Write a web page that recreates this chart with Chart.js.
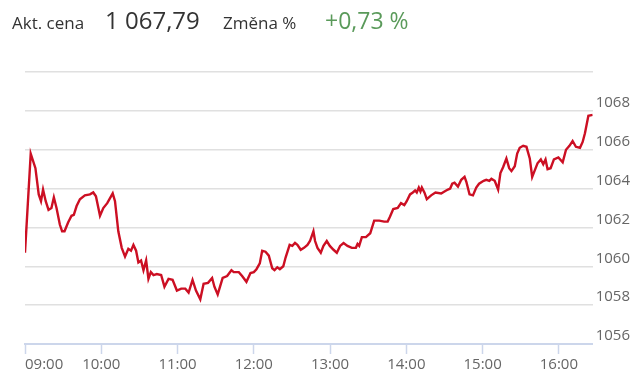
<!DOCTYPE html>
<html>
<head>
<meta charset="utf-8">
<script src="https://cdn.jsdelivr.net/npm/chart.js@4/dist/chart.umd.min.js"></script>
<style>
  html, body { margin: 0; padding: 0; background: #fff; }
  #wrap { position: relative; width: 640px; height: 383px; overflow: hidden; font-family: 'Open Sans', sans-serif; }
  #wrap canvas { position: absolute; left: 0; top: 0; }
  .h { position: absolute; white-space: nowrap; line-height: normal; }
  .lbl { font-size: 17px; color: #333; top: 10.8px; }
  .big { font-size: 24px; color: #333; top: 3.3px; }
  .chg { font-size: 23px; color: #5a9a5a; top: 4.4px; }
</style>
</head>
<body>
<div id="wrap">
  <canvas id="c" width="640" height="383"></canvas>
  <span class="h lbl" style="left:12px">Akt. cena</span>
  <span class="h big" style="left:105px">1 067,79</span>
  <span class="h lbl" style="left:223px">Změna %</span>
  <span class="h chg" style="left:325px">+0,73 %</span>
</div>
<script>
// minutes after 09:00
const minutes = [0,4.5,8.2,10.8,12.6,14.2,16.3,18.5,20.8,22.7,24.8,27.4,29.2,31.1,33.9,36.6,38.4,40.6,43.2,47.1,51.1,53.7,55.8,59.0,61.6,64.7,69.0,70.8,73.4,76.1,78.7,81.3,83.4,85.3,87.4,89.2,91.3,93.2,95.3,97.1,99.0,101.1,103.7,107.1,109.7,112.9,116.1,119.5,122.9,126.1,128.7,131.8,134.5,137.9,140.5,144.0,147.2,149.0,151.6,155.5,159.0,162.4,164.2,168.2,170.8,174.2,177.4,180.0,182.1,184.7,186.6,189.2,191.8,194.5,196.3,198.5,200.5,203.2,205.0,208.2,210.3,212.4,214.3,216.9,219.5,222.2,224.2,226.9,228.2,230.1,232.7,234.8,237.4,239.8,242.7,245.3,247.9,250.6,253.7,257.1,260.3,261.6,262.9,265.0,268.2,271.6,274.7,278.7,282.6,285.3,287.1,289.7,293.2,295.8,298.4,300.3,302.9,305.1,306.9,308.2,309.8,311.1,312.2,314.2,316.1,319.5,322.9,327.4,330.0,332.7,334.5,336.1,337.9,340.6,343.2,345.8,347.2,349.7,352.4,355.0,357.2,360.8,362.9,365.3,366.9,369.5,372.2,374.0,376.1,378.7,380.9,382.7,385.3,387.2,389.2,391.9,394.5,397.1,399.0,401.1,403.2,405.8,407.7,409.5,411.1,413.5,416.1,419.6,423.0,425.6,428.3,430.8,433.4,436.6,438.7,440.5,443.2,446.6];
const prices = [1060.7,1065.8,1065.05,1063.7,1063.35,1063.95,1063.35,1062.9,1063.0,1063.55,1063.0,1062.15,1061.8,1061.8,1062.25,1062.6,1062.65,1063.1,1063.45,1063.65,1063.7,1063.8,1063.6,1062.6,1063.0,1063.25,1063.75,1063.35,1061.8,1060.95,1060.5,1060.9,1060.8,1061.1,1060.8,1060.2,1060.3,1059.8,1060.3,1059.35,1059.7,1059.55,1059.6,1059.55,1058.95,1059.35,1059.3,1058.75,1058.85,1058.85,1058.65,1059.3,1058.75,1058.3,1059.1,1059.15,1059.4,1058.95,1058.55,1059.4,1059.5,1059.8,1059.7,1059.7,1059.5,1059.2,1059.65,1059.7,1059.85,1060.15,1060.8,1060.75,1060.55,1059.9,1059.8,1059.95,1059.85,1060.0,1060.45,1061.1,1061.05,1061.2,1061.1,1060.85,1060.95,1061.1,1061.3,1061.8,1061.3,1060.95,1060.7,1061.05,1061.3,1061.05,1060.85,1060.7,1061.05,1061.2,1061.05,1060.95,1060.95,1061.15,1061.05,1061.5,1061.5,1061.7,1062.35,1062.35,1062.3,1062.3,1062.55,1062.95,1063.0,1063.25,1063.15,1063.35,1063.7,1063.8,1063.9,1063.8,1064.05,1063.85,1064.05,1063.8,1063.45,1063.65,1063.8,1063.75,1063.85,1063.95,1064.0,1064.25,1064.3,1064.1,1064.45,1064.6,1064.35,1063.7,1063.65,1064.05,1064.25,1064.4,1064.45,1064.4,1064.5,1064.4,1063.95,1064.8,1065.1,1065.55,1065.05,1064.9,1065.15,1065.8,1066.1,1066.2,1066.15,1065.55,1064.6,1064.95,1065.3,1065.5,1065.25,1065.5,1065.0,1065.05,1065.5,1065.6,1065.35,1066.0,1066.2,1066.45,1066.15,1066.1,1066.4,1066.85,1067.75,1067.79];
const xTickValues = [0,60,120,180,240,300,360,420];
const xTickLabels = ['09:00','10:00','11:00','12:00','13:00','14:00','15:00','16:00'];
const xMax = 446.6;
const yMin = 1056, yMax = 1070, yStep = 2;

Chart.defaults.font.family = "'Open Sans', sans-serif";
Chart.defaults.color = '#666';

new Chart(document.getElementById('c'), {
  type: 'line',
  data: {
    datasets: [{
      data: minutes.map((m, i) => ({ x: m, y: prices[i] })),
      borderColor: '#cc0f23',
      borderWidth: 2.4,
      pointRadius: 0,
      tension: 0,
      fill: false
    }]
  },
  options: {
    responsive: false,
    animation: false,
    layout: { padding: { left: 25, right: 7, top: 72, bottom: 7 } },
    plugins: { legend: { display: false }, tooltip: { enabled: false } },
    scales: {
      x: {
        type: 'linear',
        min: 0,
        max: xMax,
        afterBuildTicks: (s) => { s.ticks = xTickValues.concat([xMax]).map(v => ({ value: v })); },
        ticks: {
          autoSkip: false,
          maxRotation: 0,
          align: 'inner',
          padding: 2,
          font: { size: 15 },
          color: '#666',
          callback: (v) => { const i = xTickValues.indexOf(v); return i >= 0 ? xTickLabels[i] : ''; }
        },
        grid: {
          drawOnChartArea: false,
          drawTicks: true,
          tickLength: 10,
          tickWidth: 1.5,
          tickColor: (ctx) => (ctx.tick && xTickValues.indexOf(ctx.tick.value) < 0) ? 'rgba(0,0,0,0)' : '#ccd6eb'
        },
        border: { display: true, color: '#ccd6eb', width: 2 }
      },
      y: {
        position: 'right',
        min: yMin,
        max: yMax,
        ticks: {
          stepSize: yStep,
          padding: 3,
          labelOffset: -8,
          font: { size: 15 },
          color: '#666',
          callback: (v) => v === yMax ? '' : String(v)
        },
        grid: {
          drawTicks: false,
          lineWidth: 1.5,
          color: (ctx) => (ctx.tick && ctx.tick.value === yMin) ? 'rgba(0,0,0,0)' : '#e0e0e0'
        },
        border: { display: false }
      }
    }
  }
});
</script>
</body>
</html>
